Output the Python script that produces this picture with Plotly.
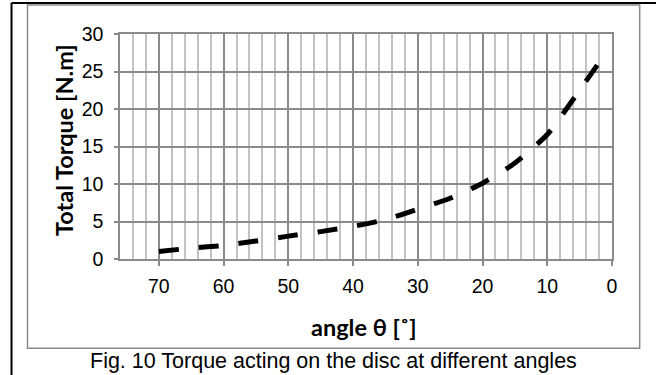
import plotly.graph_objects as go

# Data
angle_deg = [70, 65, 60, 55, 50, 45, 40, 35, 30, 25, 20, 15, 10, 5, 2]
total_torque = [1.0, 1.45, 1.8, 2.4, 3.05, 3.65, 4.35, 5.25, 6.65, 8.1, 10.1, 12.8, 16.6, 22.5, 26.2]

x_tick_vals = [70, 60, 50, 40, 30, 20, 10, 0]
y_tick_vals = [0, 5, 10, 15, 20, 25, 30]

W, H = 656, 375
L, R, T, B = 120, 44, 34, 116
PW, PH = W - L - R, H - T - B


def px(x):
    return (x - L) / PW


def py(y):
    return (H - B - y) / PH


fig = go.Figure()
fig.add_trace(go.Scatter(
    x=angle_deg, y=total_torque, mode="lines",
    line=dict(color="black", width=5, dash="20px,20px", shape="spline", smoothing=0.6),
    showlegend=False, hoverinfo="skip",
))

tick_font = dict(family="Liberation Sans, Arial", size=19.5, color="black")
grid_dark = "#8a8a8a"
grid_light = "#c2c2c2"

fig.update_xaxes(
    range=[76, 0], tickvals=x_tick_vals, ticktext=[str(v) for v in x_tick_vals],
    showgrid=True, gridcolor=grid_dark, gridwidth=1.5,
    minor=dict(tick0=0, dtick=2, showgrid=True, gridcolor=grid_light, gridwidth=1.5, ticks=""),
    showline=True, linecolor=grid_dark, linewidth=1.5, mirror=True,
    ticks="outside", ticklen=5, tickcolor=grid_dark, tickwidth=1.5,
    tickfont=tick_font, ticklabelstandoff=4, zeroline=False,
)
fig.update_yaxes(
    range=[0, 30], tickvals=y_tick_vals,
    showgrid=True, gridcolor=grid_dark, gridwidth=1.5,
    showline=True, linecolor=grid_dark, linewidth=1.5, mirror=True,
    ticks="outside", ticklen=4, tickcolor=grid_dark, tickwidth=1.5,
    tickfont=tick_font, ticklabelstandoff=7, zeroline=False,
)

title_font = dict(family="Lato, Carlito, Calibri, sans-serif", size=23.5, color="black")
annotations = [
    dict(text="<b>Total Torque [N.m]</b>", x=px(64), y=py(140), xref="paper", yref="paper",
         textangle=-90, showarrow=False, font=title_font, xanchor="center", yanchor="middle"),
    dict(text="<b>angle θ [˚]</b>", x=px(364), y=py(327), xref="paper", yref="paper",
         showarrow=False, font=title_font, xanchor="center", yanchor="middle"),
    dict(text="Fig. 10 Torque acting on the disc at different angles", x=px(333), y=py(361),
         xref="paper", yref="paper", showarrow=False,
         font=dict(family="Liberation Sans, Arial", size=21.5, color="black"),
         xanchor="center", yanchor="middle"),
]

shapes = [
    # gray chart-area frame
    dict(type="rect", xref="paper", yref="paper", x0=px(27.5), x1=px(639.7), y0=py(348.3), y1=py(5),
         line=dict(color="#8a8a8a", width=1.5), layer="below"),
    # outer black frame (left and top)
    dict(type="line", xref="paper", yref="paper", x0=px(11.5), x1=px(11.5), y0=py(3), y1=py(380),
         line=dict(color="black", width=2)),
    dict(type="line", xref="paper", yref="paper", x0=px(11.5), x1=px(660), y0=py(3), y1=py(3),
         line=dict(color="black", width=2)),
]

fig.update_layout(
    width=W, height=H, margin=dict(l=L, r=R, t=T, b=B),
    paper_bgcolor="white", plot_bgcolor="white",
    annotations=annotations, shapes=shapes,
)

fig.write_html("out.html")
